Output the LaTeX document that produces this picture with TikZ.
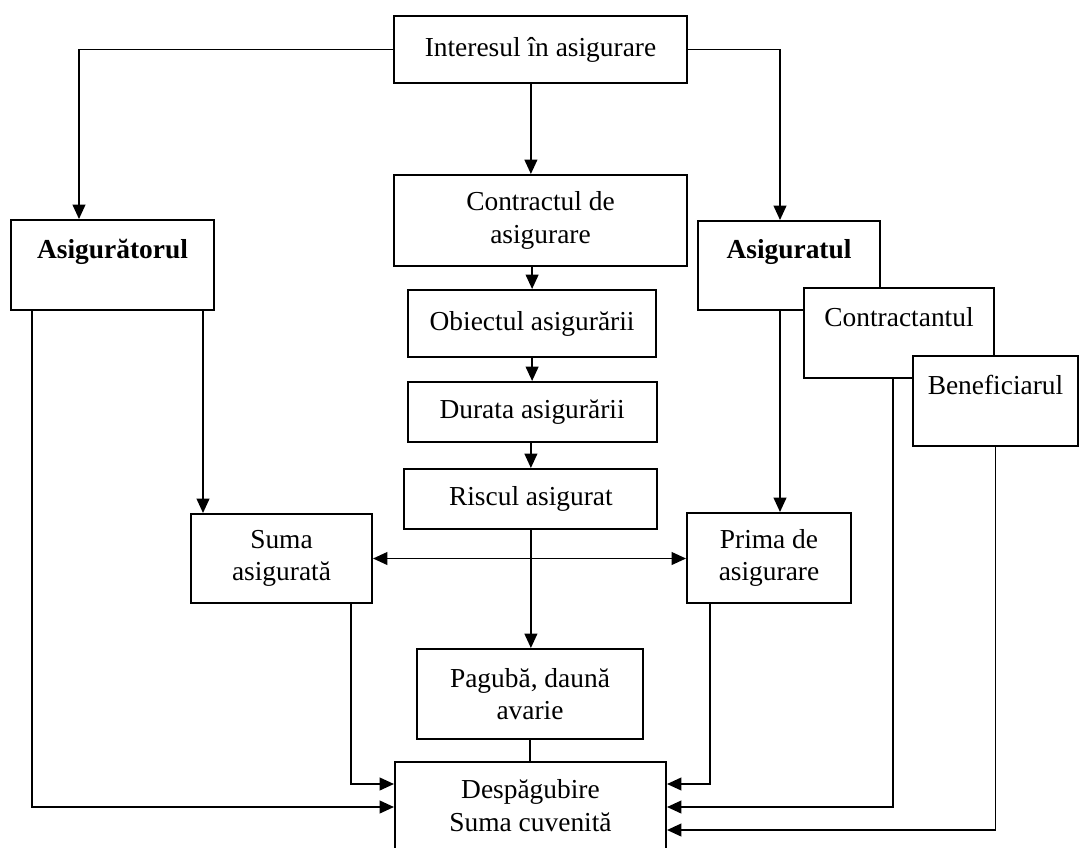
\documentclass[tikz,border=0pt]{standalone}
\usepackage{fontspec}
\setmainfont{Liberation Serif}
\usepackage{tikz}
\usetikzlibrary{positioning,arrows.meta}

\begin{document}
\begin{tikzpicture}[
				x=0.025cm, y=-0.025cm,
				squarednode/.style={rectangle, draw=black, fill=white, line width=1.4pt, inner sep=0pt, align=center, font=\fontsize{19.5}{23}\selectfont},
				headnode/.style={squarednode, font=\fontsize{19.5}{23}\selectfont\bfseries},
				arr/.style={-{Triangle[length=3.6mm,width=3.2mm]}, line width=1.2pt},
				arrboth/.style={{Triangle[length=3.6mm,width=3.2mm]}-{Triangle[length=3.6mm,width=3.2mm]}, line width=1.2pt},
				]
				\useasboundingbox (0,0) rectangle (1082,847);
				%Nodes
				\node[squarednode, minimum width=7.325cm, minimum height=1.675cm](interes) at (540.5,49.5){Interesul în asigurare};
				\node[squarednode, minimum width=7.325cm, minimum height=2.275cm](contract) at (540.5,220.5){Contractul de\\asigurare};
				\node[squarednode, minimum width=6.2cm, minimum height=1.675cm](obiect)[below=0.55cm of contract, xshift=-0.21cm]{Obiectul asigurării};
				\node[squarednode, minimum width=6.225cm, minimum height=1.5cm](durata)[below=0.575cm of obiect]{Durata asigurării};
				\node[squarednode, minimum width=6.325cm, minimum height=1.5cm](risc)[below=0.625cm of durata, xshift=-0.03cm]{Riscul asigurat};
				\node[headnode, minimum width=5.075cm, minimum height=2.25cm](asigurator) at (112.5,265){Asigurătorul\\ \mbox{}};
				\node[headnode, minimum width=4.55cm, minimum height=2.225cm](asigurat) at (789,265.5){Asiguratul\\ \mbox{}};
				\node[squarednode, minimum width=4.75cm, minimum height=2.25cm](contractant) at (899,333){Contractantul\\ \mbox{}};
				\node[squarednode, minimum width=4.125cm, minimum height=2.25cm](beneficiar) at (995.5,401){Beneficiarul\\ \mbox{}};
				\node[squarednode, minimum width=4.525cm, minimum height=2.225cm](suma) at (281.5,558.5){Suma\\asigurată};
				\node[squarednode, minimum width=4.1cm, minimum height=2.25cm](prima) at (769,558){Prima de\\asigurare};
				\node[squarednode, minimum width=5.65cm, minimum height=2.25cm](paguba) at (530,694){Pagubă, daună\\avarie};
				\node[squarednode, minimum width=6.775cm, minimum height=2.175cm](despagubire) at (530.5,805.5){Despăgubire\\Suma cuvenită};
				
				%Lines
				\draw[arr] (interes.west) -| ([xshift=-0.8375cm]asigurator.north);
				\draw[arr] (interes.east) -| ([xshift=-0.225cm]asigurat.north);
				\draw[arr] (interes.south -| risc) -- (contract.north -| risc);
				\draw[arr] (contract.south -| obiect) -- (obiect.north);
				\draw[arr] (obiect.south) -- (durata.north);
				\draw[arr] (durata.south -| risc) -- (risc.north);
				\draw[arr] (risc.south) -- (paguba.north -| risc);
				\draw[line width=1.2pt] (paguba.south) -- (despagubire.north -| paguba);
				\draw[arrboth] (suma.east) -- (suma.east -| prima.west);
				\draw[arr] ([xshift=-0.3cm]asigurator.south east) coordinate (sumtop) -- (sumtop |- suma.north);
				\draw[arr] ([xshift=-0.225cm]asigurat.south) coordinate (primtop) -- (primtop |- prima.north);
				\draw[arr] ([xshift=0.55cm]asigurator.south west) |- ([yshift=-0.0375cm]despagubire.west);
				\draw[arr] ([xshift=-0.55cm]suma.south east) |- ([yshift=0.5375cm]despagubire.west);
				\draw[arr] ([xshift=0.6cm]prima.south west) |- ([yshift=0.5375cm]despagubire.east);
				\draw[arr] ([xshift=-0.15cm]contractant.south) |- ([yshift=-0.0375cm]despagubire.east);
				\draw[arr] (beneficiar.south) |- ([yshift=-0.6125cm]despagubire.east);
				
			\end{tikzpicture}
\end{document}
